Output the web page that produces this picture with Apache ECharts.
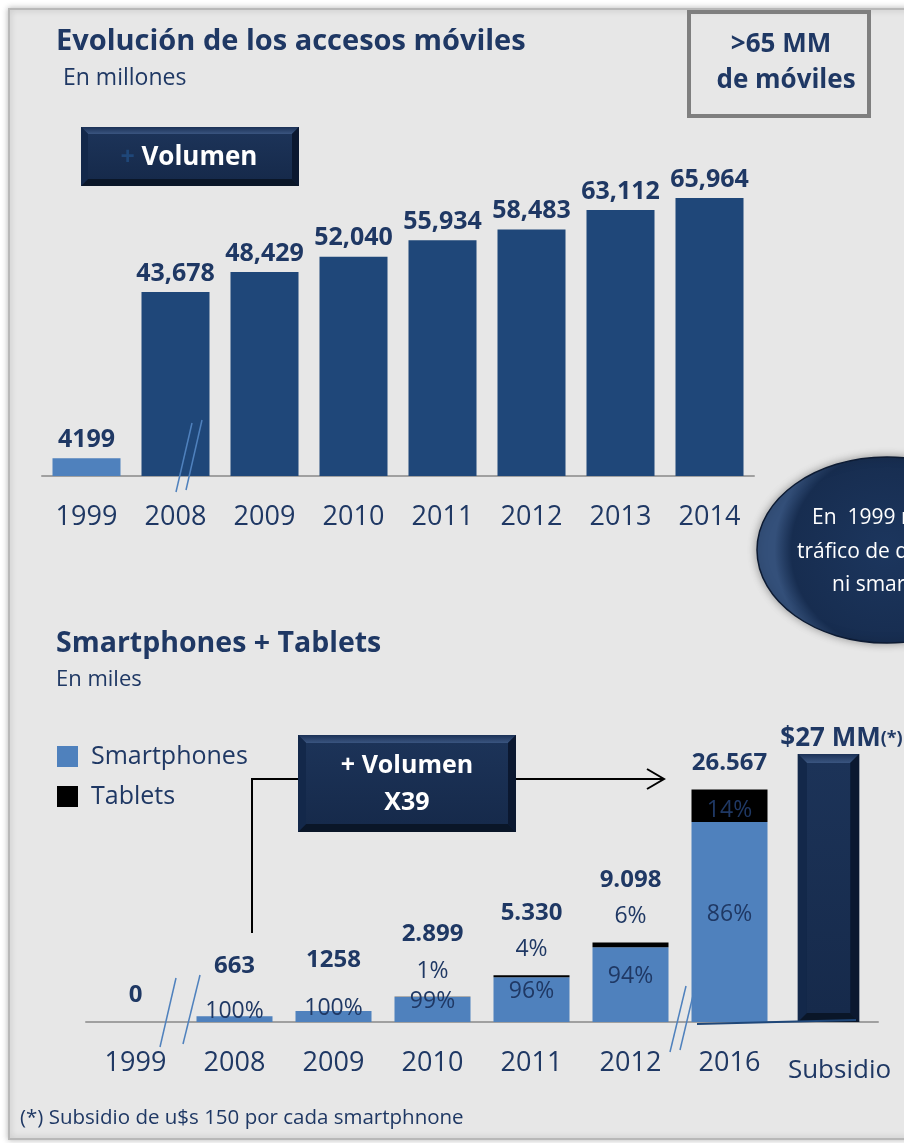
<!DOCTYPE html>
<html>
<head>
<meta charset="utf-8">
<script src="https://cdn.jsdelivr.net/npm/echarts@6/dist/echarts.min.js"></script>
<style>
html,body{margin:0;padding:0;background:#ffffff;}
#c{width:904px;height:1143px;}
</style>
</head>
<body>
<div id="c"></div>
<script>
// ---------- data ----------
const accessYears = ['1999','2008','2009','2010','2011','2012','2013','2014'];
const accessValues = [4199, 43678, 48429, 52040, 55934, 58483, 63112, 65964];
const accessLabels = ['4199','43,678','48,429','52,040','55,934','58,483','63,112','65,964'];

const smartYears = ['1999','2008','2009','2010','2011','2012','2016','Subsidio'];
const smartTotals = [0, 663, 1258, 2899, 5330, 9098, 26567, null];
const smartTotalLabels = ['0','663','1258','2.899','5.330','9.098','26.567',''];
const smartphoneShare = [null, 100, 100, 99, 96, 94, 86, null];
const tabletShare = [null, 0, 0, 1, 4, 6, 14, null];
const subsidyValues = [null, null, null, null, null, null, null, 27];
const subsidyLabel = '$27 MM';

// ---------- styles ----------
const FONT = '"Open Sans", Lato, sans-serif';
const NAVY = '#1f3864';
const DARK_BAR = '#1f4779';
const LIGHT_BAR = '#4f81bd';

function bevelChildren(x, y, w, h, d) {
  return [
    {type:'rect', shape:{x:x, y:y, width:w, height:h}, style:{fill:'#0f2140'}},
    {type:'polygon', shape:{points:[[x,y],[x+w,y],[x+w-d,y+d],[x+d,y+d]]},
      style:{fill:new echarts.graphic.LinearGradient(0,0,0,1,[{offset:0,color:'#1b3156'},{offset:1,color:'#3a5580'}])}},
    {type:'polygon', shape:{points:[[x,y+h],[x+w,y+h],[x+w-d,y+h-d],[x+d,y+h-d]]}, style:{fill:'#0a1628'}},
    {type:'polygon', shape:{points:[[x,y],[x+d,y+d],[x+d,y+h-d],[x,y+h]]}, style:{fill:'#13284a'}},
    {type:'polygon', shape:{points:[[x+w,y],[x+w-d,y+d],[x+w-d,y+h-d],[x+w,y+h]]}, style:{fill:'#0b1830'}},
    {type:'rect', shape:{x:x+d, y:y+d, width:w-2*d, height:h-2*d},
      style:{fill:new echarts.graphic.LinearGradient(0,0,0,1,[{offset:0,color:'#1c3358'},{offset:1,color:'#162a4b'}])}}
  ];
}

const smartphoneData = smartTotals.map((t, i) => {
  if (t === null || smartphoneShare[i] === null) return null;
  return { value: t * smartphoneShare[i] / 100, label: { show: true } };
});
const tabletData = smartTotals.map((t, i) => {
  if (t === null || tabletShare[i] === null) return null;
  const s = tabletShare[i];
  return { value: t * s / 100,
           label: { show: s > 0, position: s >= 10 ? 'inside' : 'top',
                    offset: s >= 10 ? [0, 5] : [0, 0] } };
});
const totalData = smartTotals.map((t, i) => {
  if (t === null) return null;
  const tabletOnTop = tabletShare[i] > 0 && tabletShare[i] < 10;
  const smallBar = smartphoneShare[i] === 100;
  return { value: t, label: { distance: tabletOnTop ? 50 : (smallBar ? 38 : 14) } };
});

const chart = echarts.init(document.getElementById('c'), null, {renderer:'canvas'});

const option = {
  animation: false,
  backgroundColor: '#ffffff',
  textStyle: { fontFamily: FONT },
  title: [
    { text: 'Evolución de los accesos móviles', left: 56, top: 27, padding: 0,
      textStyle: { fontSize: 29, fontWeight: 'bold', color: NAVY, fontFamily: FONT } },
    { text: 'En millones', left: 63, top: 67, padding: 0,
      textStyle: { fontSize: 23, fontWeight: 'normal', color: NAVY, fontFamily: FONT } },
    { text: 'Smartphones + Tablets', left: 56, top: 629, padding: 0,
      textStyle: { fontSize: 28.5, fontWeight: 'bold', color: NAVY, fontFamily: FONT } },
    { text: 'En miles', left: 56, top: 669, padding: 0,
      textStyle: { fontSize: 22, fontWeight: 'normal', color: NAVY, fontFamily: FONT } },
    { text: '(*) Subsidio de u$s 150 por cada smartphnone', left: 20, top: 1108, padding: 0,
      textStyle: { fontSize: 20.5, fontWeight: 'normal', color: NAVY, fontFamily: FONT } }
  ],
  legend: {
    data: ['Smartphones', 'Tablets'], padding: 0,
    orient: 'vertical', left: 57, top: 744,
    itemWidth: 21, itemHeight: 21, itemGap: 15, icon: 'rect',
    selectedMode: false,
    textStyle: { fontSize: 25, color: NAVY, fontFamily: FONT, padding: [0,0,0,8] }
  },
  grid: [
    { left: 42, top: 181, width: 712, height: 295 },
    { left: 86, top: 742, width: 792, height: 280 }
  ],
  xAxis: [
    { type: 'category', gridIndex: 0, data: accessYears,
      axisLine: { lineStyle: { color: '#a0a0a0', width: 2 } },
      axisTick: { show: false },
      axisLabel: { interval: 0, fontSize: 27, color: NAVY, margin: 28, fontFamily: FONT } },
    { type: 'category', gridIndex: 1, data: smartYears,
      axisLine: { lineStyle: { color: '#a0a0a0', width: 2 } },
      axisTick: { show: false },
      axisLabel: { interval: 0, fontSize: 27, color: NAVY, margin: 28, fontFamily: FONT,
        formatter: v => v === 'Subsidio' ? '{s|' + v + '}' : v,
        rich: { s: { fontSize: 26, color: NAVY, fontFamily: FONT, padding: [8, 0, 0, 22] } } } },
    { type: 'category', gridIndex: 1, data: smartYears, show: false }
  ],
  yAxis: [
    { type: 'value', gridIndex: 0, min: 0, max: 70000, show: false, splitLine: { show: false } },
    { type: 'value', gridIndex: 1, min: 0, max: 32000, show: false, splitLine: { show: false } },
    { type: 'value', gridIndex: 1, min: 0, max: 28.2, show: false, splitLine: { show: false } }
  ],
  series: [
    { name: 'Accesos', type: 'bar', xAxisIndex: 0, yAxisIndex: 0, barWidth: 68,
      data: accessValues,
      itemStyle: { color: p => p.dataIndex === 0 ? LIGHT_BAR : DARK_BAR },
      label: { show: true, position: 'top', distance: 6,
        formatter: p => accessLabels[p.dataIndex],
        fontSize: 25, fontWeight: 'bold', color: NAVY, fontFamily: FONT } },
    { name: 'Smartphones', type: 'bar', xAxisIndex: 1, yAxisIndex: 1, stack: 'st', barWidth: 76,
      data: smartphoneData, itemStyle: { color: LIGHT_BAR },
      label: { position: 'inside', offset: [0, -8],
        formatter: p => smartphoneShare[p.dataIndex] + '%',
        fontSize: 23, color: NAVY, fontFamily: FONT } },
    { name: 'Tablets', type: 'bar', xAxisIndex: 1, yAxisIndex: 1, stack: 'st', barWidth: 76,
      data: tabletData, itemStyle: { color: '#000000' },
      label: { distance: 14,
        formatter: p => tabletShare[p.dataIndex] + '%',
        fontSize: 23, color: NAVY, fontFamily: FONT } },
    { name: 'Total', type: 'scatter', xAxisIndex: 1, yAxisIndex: 1,
      symbolSize: 1, itemStyle: { color: 'rgba(0,0,0,0)', opacity: 1 },
      data: totalData, z: 5,
      label: { show: true, position: 'top',
        formatter: p => smartTotalLabels[p.dataIndex],
        fontSize: 24, fontWeight: 'bold', color: NAVY, fontFamily: FONT } },
    { name: 'Subsidio', type: 'custom', xAxisIndex: 2, yAxisIndex: 2,
      data: subsidyValues.map((v, i) => v === null ? null : [i, v]),
      encode: { x: 0, y: 1 },
      renderItem: (params, api) => {
        const top = api.coord([api.value(0), api.value(1)]);
        const base = api.coord([api.value(0), 0]);
        const w = api.size([1, 0])[0] * 0.62;
        const kids = bevelChildren(top[0] - w / 2, top[1], w, base[1] - top[1], 9);
        kids.push({ type: 'text', x: top[0] + 13, y: top[1] - 2,
          style: { text: '{a|' + subsidyLabel + '}{b|(*)}', align: 'center', verticalAlign: 'bottom',
            rich: { a: { fontSize: 26, fontWeight: 'bold', fill: NAVY, fontFamily: FONT },
                    b: { fontSize: 18, fontWeight: 'bold', fill: NAVY, fontFamily: FONT } } } });
        return { type: 'group', children: kids };
      } }
  ],
  graphic: [
    // panel
    { type: 'rect', z: -10, shape: { x: 9, y: 9, width: 905, height: 1130 },
      style: { fill: '#e7e7e7', stroke: '#b8b8b8', lineWidth: 2,
               shadowBlur: 6, shadowColor: 'rgba(0,0,0,0.25)' } },
    // >65 MM box
    { type: 'rect', z: 10, shape: { x: 689, y: 12, width: 180, height: 104 },
      style: { fill: 'rgba(0,0,0,0)', stroke: '#7f7f7f', lineWidth: 4 } },
    { type: 'text', z: 10, x: 781, y: 45,
      style: { text: '>65 MM', fontSize: 26, fontWeight: 'bold', fill: NAVY, fontFamily: FONT,
               align: 'center', verticalAlign: 'middle' } },
    { type: 'text', z: 10, x: 786, y: 81,
      style: { text: 'de móviles', fontSize: 26, fontWeight: 'bold', fill: NAVY, fontFamily: FONT,
               align: 'center', verticalAlign: 'middle' } },
    // + Volumen button
    { type: 'group', z: 10, children: bevelChildren(81, 127, 218, 59, 7) },
    { type: 'text', z: 11, x: 189, y: 158,
      style: { text: '{p|+ }{v|Volumen}', align: 'center', verticalAlign: 'middle',
               rich: { p: { fontSize: 25, fontWeight: 'bold', fill: '#1f4779', fontFamily: FONT },
                       v: { fontSize: 26, fontWeight: 'bold', fill: '#ffffff', fontFamily: FONT } } } },
    // break marks top chart
    { type: 'line', z: 10, shape: { x1: 192, y1: 423, x2: 176, y2: 492 }, style: { stroke: LIGHT_BAR, lineWidth: 1.5 } },
    { type: 'line', z: 10, shape: { x1: 202, y1: 420, x2: 186, y2: 490 }, style: { stroke: LIGHT_BAR, lineWidth: 1.5 } },
    // ellipse note
    { type: 'ellipse', z: 10, shape: { cx: 887, cy: 550, rx: 130, ry: 93 },
      style: { fill: new echarts.graphic.RadialGradient(0.5, 0.5, 0.6, [
                 { offset: 0, color: '#1c365e' }, { offset: 0.85, color: '#172d50' }, { offset: 1, color: '#34507a' }]),
               stroke: '#0d1b33', lineWidth: 1.5, shadowBlur: 8, shadowColor: 'rgba(0,0,0,0.35)' } },
    { type: 'text', z: 11, x: 812, y: 518,
      style: { text: 'En  1999 no había', fontSize: 21, fill: '#ffffff', fontFamily: FONT, verticalAlign: 'middle' } },
    { type: 'text', z: 11, x: 797, y: 552,
      style: { text: 'tráfico de datos', fontSize: 21, fill: '#ffffff', fontFamily: FONT, verticalAlign: 'middle' } },
    { type: 'text', z: 11, x: 832, y: 585,
      style: { text: 'ni smartphones', fontSize: 21, fill: '#ffffff', fontFamily: FONT, verticalAlign: 'middle' } },
    // + Volumen X39 box
    { type: 'group', z: 10, children: bevelChildren(298, 735, 218, 97, 8) },
    { type: 'text', z: 11, x: 407, y: 766,
      style: { text: '+ Volumen', fontSize: 25, fontWeight: 'bold', fill: '#ffffff', fontFamily: FONT,
               align: 'center', verticalAlign: 'middle' } },
    { type: 'text', z: 11, x: 407, y: 803,
      style: { text: 'X39', fontSize: 25, fontWeight: 'bold', fill: '#ffffff', fontFamily: FONT,
               align: 'center', verticalAlign: 'middle' } },
    // connectors
    { type: 'polyline', z: 10, shape: { points: [[252, 933], [252, 779], [298, 779]] },
      style: { stroke: '#000000', lineWidth: 2, fill: null } },
    { type: 'line', z: 10, shape: { x1: 516, y1: 779, x2: 664, y2: 779 }, style: { stroke: '#000000', lineWidth: 2 } },
    { type: 'polyline', z: 10, shape: { points: [[647, 769], [664, 779], [647, 789]] },
      style: { stroke: '#000000', lineWidth: 2, fill: null } },
    // break marks bottom chart
    { type: 'line', z: 10, shape: { x1: 176, y1: 978, x2: 160, y2: 1047 }, style: { stroke: LIGHT_BAR, lineWidth: 1.5 } },
    { type: 'line', z: 10, shape: { x1: 200, y1: 975, x2: 183, y2: 1044 }, style: { stroke: LIGHT_BAR, lineWidth: 1.5 } },
    { type: 'line', z: 10, shape: { x1: 686, y1: 986, x2: 670, y2: 1052 }, style: { stroke: LIGHT_BAR, lineWidth: 1.5 } },
    { type: 'line', z: 10, shape: { x1: 696, y1: 983, x2: 680, y2: 1050 }, style: { stroke: LIGHT_BAR, lineWidth: 1.5 } },
    // base line under 2016 / subsidio
    { type: 'line', z: 10, shape: { x1: 697, y1: 1024, x2: 856, y2: 1020 }, style: { stroke: '#1f4779', lineWidth: 2 } }
  ]
};
chart.setOption(option);
</script>
</body>
</html>
